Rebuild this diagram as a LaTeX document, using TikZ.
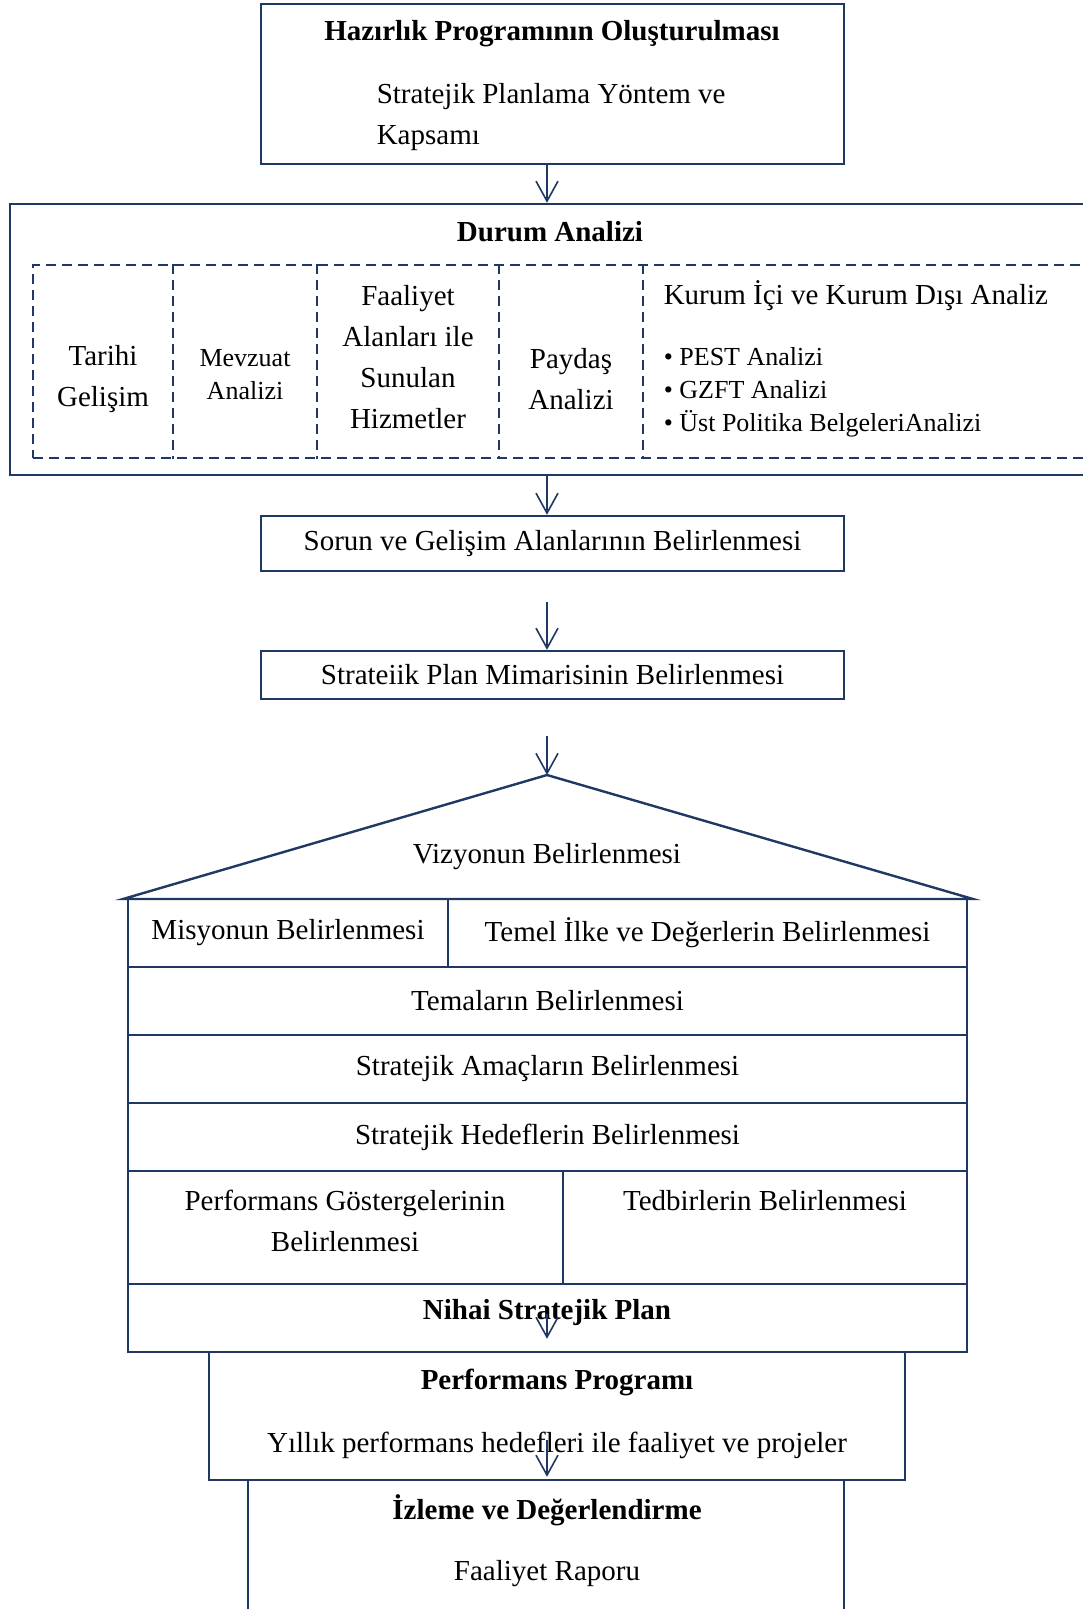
\documentclass[tikz,border=0pt]{standalone}
\usepackage{fontspec}
\setmainfont{Liberation Serif}
\usetikzlibrary{arrows.meta}
\definecolor{navy}{RGB}{31,56,100}

\newcommand\mainsz{\fontsize{29}{41}\selectfont}
\newcommand\smallsz{\fontsize{26}{33}\selectfont}

\tikzset{every picture/.style={line width=1.6pt}}
\tikzset{
  frame/.style={draw=navy, line width=2.4pt, inner sep=0pt, font=\mainsz},
  cell/.style={draw=navy, line width=2pt, dash pattern=on 10pt off 6pt},
  lbl/.style={inner sep=0pt, font=\mainsz, align=center},
  link/.style={draw=navy, line width=1.6pt, -{Straight Barb[length=20pt,width=22pt]}},
}

\begin{document}
\begin{tikzpicture}[x=1pt,y=1pt,yscale=-1,xscale=1]
\useasboundingbox[fill=white] (0,0) rectangle (1083,1609);
\coordinate (axis) at (547,0);

% Hazirlik
\node[frame, minimum width=583pt, minimum height=160pt] (hazirlik) at (552.5,84) {};
\node[lbl, font=\mainsz\bfseries] (hazirlikT) at (552,34) {Hazırlık Programının Oluşturulması};
\node[lbl, align=left, anchor=west] (yontem) at (376,117) {Stratejik Planlama Yöntem ve\\Kapsamı};

% Durum analizi
\node[frame, minimum width=1085pt, minimum height=271pt] (durum) at (552.5,339.5) {};
\node[lbl, font=\mainsz\bfseries] (durumT) at (550,232) {Durum Analizi};
\node[cell, inner sep=0pt, minimum width=1067pt, minimum height=193pt] (band) at (566.5,361.5) {};
\foreach \xx in {173,317,499,643}
  \draw[cell] (\xx,0 |- band.north) -- (\xx,0 |- band.south);
\node[lbl] (tarihi) at (103,379) {Tarihi\\Gelişim};
\node[lbl, font=\smallsz, align=center] (mevzuat) at (245,375) {Mevzuat\\Analizi};
\node[lbl] (faaliyet) at (408,357) {Faaliyet\\Alanları ile\\Sunulan\\Hizmetler};
\node[lbl] (paydas) at (571,379) {Paydaş\\Analizi};
\node[lbl, anchor=west] (kurum) at (663,296) {Kurum İçi ve Kurum Dışı Analiz};
\node[lbl, font=\smallsz, align=left, anchor=west] (pest) at (663,392)
  {\textbullet\ PEST Analizi\\\textbullet\ GZFT Analizi\\\textbullet\ Üst Politika BelgeleriAnalizi};

% Sorun ve mimari
\node[frame, minimum width=583pt, minimum height=55pt] (sorun) at (552.5,543.5) {Sorun ve Gelişim Alanlarının Belirlenmesi};
\node[frame, minimum width=583pt, minimum height=48pt] (mimari) at (552.5,675) {Strateiik Plan Mimarisinin Belirlenmesi};

% Ev
\coordinate (apex) at (547,775);
\draw[navy, line width=2.4pt] (123,899) -- (apex) -- (973,899) -- cycle;
\node[lbl] (vizyon) at (547,857) {Vizyonun Belirlenmesi};
\node[frame, minimum width=320pt, minimum height=68pt] (misyon) at (288,933) {Misyonun Belirlenmesi};
\node[frame, minimum width=519pt, minimum height=68pt] (temel) at (707.5,933) {Temel İlke ve Değerlerin Belirlenmesi};
\node[frame, minimum width=839pt, minimum height=68pt] (tema) at (547.5,1001) {Temaların Belirlenmesi};
\node[frame, minimum width=839pt, minimum height=68pt] (amac) at (547.5,1069) {Stratejik Amaçların Belirlenmesi};
\node[frame, minimum width=839pt, minimum height=68pt] (hedef) at (547.5,1137) {Stratejik Hedeflerin Belirlenmesi};
\node[frame, minimum width=435pt, minimum height=113pt] (gosterge) at (345.5,1227.5) {};
\node[frame, minimum width=404pt, minimum height=113pt] (tedbir) at (765,1227.5) {};
\node[lbl] (gostergeT) at (345,1221) {Performans Göstergelerinin\\Belirlenmesi};
\node[lbl] (tedbirT) at (765,1201) {Tedbirlerin Belirlenmesi};
\node[frame, minimum width=839pt, minimum height=68pt] (nihai) at (547.5,1318) {};
\node[lbl, font=\mainsz\bfseries] (nihaiT) at (547,1313) {Nihai Stratejik Plan};

% Program ve izleme
\node[frame, minimum width=696pt, minimum height=128pt] (program) at (557,1416) {};
\node[lbl, font=\mainsz\bfseries] (programT) at (557,1382) {Performans Programı};
\node[lbl] (yillik) at (557,1445) {Yıllık performans hedefleri ile faaliyet ve projeler};
\node[frame, minimum width=596pt, minimum height=140pt] (izleme) at (546,1550) {};
\node[lbl, font=\mainsz\bfseries] (izlemeT) at (547,1510) {İzleme ve Değerlendirme};
\node[lbl] (rapor) at (547,1574) {Faaliyet Raporu};

% Oklar
\coordinate (s3) at (547,602);
\coordinate (s4) at (547,736);
\coordinate (s5) at (547,1314);
\coordinate (s6) at (547,1440);
\draw[link] (hazirlik.south -| axis) -- (durum.north -| axis);
\draw[link] (durum.south -| axis) -- (sorun.north -| axis);
\draw[link] (s3) -- (mimari.north -| axis);
\draw[link] (s4) -- (apex);
\draw[link, shorten >=12pt] (s5) -- (program.north -| axis);
\draw[link, shorten >=2pt] (s6) -- (izleme.north -| axis);

\end{tikzpicture}
\end{document}
